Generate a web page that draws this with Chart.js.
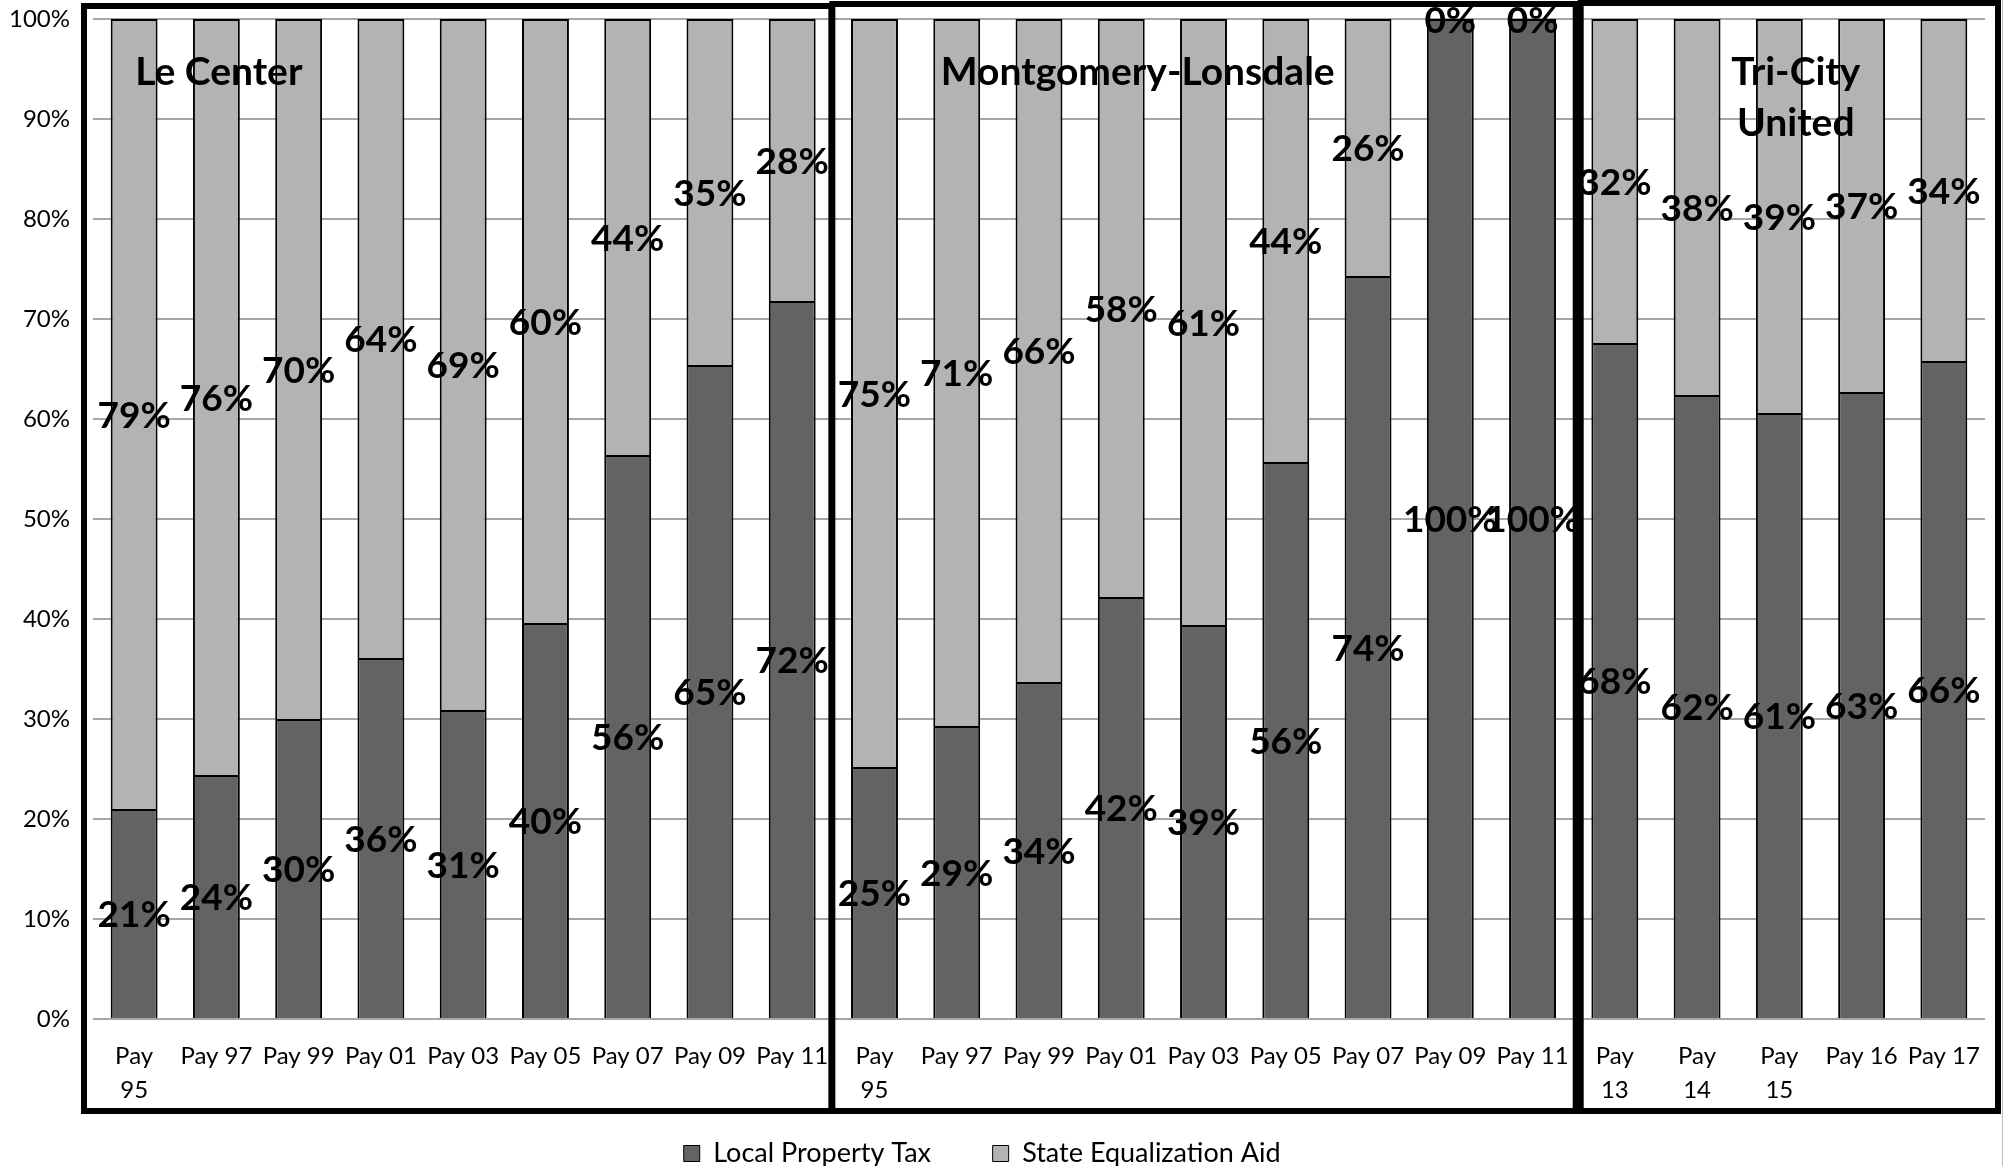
<!DOCTYPE html>
<html>
<head>
<meta charset="utf-8">
<script src="https://cdn.jsdelivr.net/npm/chart.js@4.4.1/dist/chart.umd.min.js"></script>
<style>
  html, body { margin: 0; padding: 0; background: #fff; }
  #wrap { width: 2005px; height: 1166px; }
</style>
</head>
<body>
<div id="wrap"><canvas id="taxChart" width="2005" height="1166"></canvas></div>
<script>
// tick labels (some wrap onto two lines like in the original)
const categories = [
  ['Pay', '95'], 'Pay 97', 'Pay 99', 'Pay 01', 'Pay 03', 'Pay 05', 'Pay 07', 'Pay 09', 'Pay 11',
  ['Pay', '95'], 'Pay 97', 'Pay 99', 'Pay 01', 'Pay 03', 'Pay 05', 'Pay 07', 'Pay 09', 'Pay 11',
  ['Pay', '13'], ['Pay', '14'], ['Pay', '15'], 'Pay 16', 'Pay 17'
];

const localTax = [21.0, 24.4, 30.0, 36.1, 30.9, 39.6, 56.4, 65.4, 71.8,
                  25.2, 29.3, 33.7, 42.2, 39.4, 55.7, 74.3, 100, 100,
                  67.6, 62.4, 60.6, 62.7, 65.8];
const stateAid = [79.0, 75.6, 70.0, 63.9, 69.1, 60.4, 43.6, 34.6, 28.2,
                  74.8, 70.7, 66.3, 57.8, 60.6, 44.3, 25.7, 0, 0,
                  32.4, 37.6, 39.4, 37.3, 34.2];

const groupNames = [['Le Center'], ['Montgomery-Lonsdale'], ['Tri-City', 'United']];
const groupSizes = [9, 9, 5];

const yTicks = [0, 10, 20, 30, 40, 50, 60, 70, 80, 90, 100];

const FONT = 'Lato';

// labels, group frames and titles drawn on top of the bars
const overlayPlugin = {
    id: 'overlay',
    afterDatasetsDraw(chart) {
        const ctx = chart.ctx;
        ctx.save();
        ctx.font = 'bold 37px ' + FONT;
        ctx.fillStyle = '#000';
        ctx.textAlign = 'center';
        ctx.textBaseline = 'middle';
        chart.data.datasets.forEach((ds, di) => {
            chart.getDatasetMeta(di).data.forEach((bar, i) => {
                const p = bar.getProps(['x', 'y', 'base'], true);
                ctx.fillText(Math.round(ds.data[i]) + '%', p.x, (p.y + p.base) / 2 + 2);
            });
        });
        ctx.restore();
    },
    afterDraw(chart) {
        const ctx = chart.ctx;
        const xs = chart.scales.x;
        const area = chart.chartArea;
        // frame offsets for each group: [left, right, top]
        const frameAdj = [[-9, -2, 6], [-1, 2, 4], [7, 13, 3]];
        // where each title sits (category index)
        const titleAt = [1.03, 12.2, 20.2];
        ctx.save();
        let start = 0;
        groupSizes.forEach((n, g) => {
            const left = xs.getPixelForValue(start - 0.5) + frameAdj[g][0];
            const right = xs.getPixelForValue(start + n - 0.5) + frameAdj[g][1];
            const top = frameAdj[g][2];
            const bottom = area.bottom + 92;
            ctx.strokeStyle = '#000';
            ctx.lineWidth = 6;
            ctx.lineJoin = 'miter';
            ctx.strokeRect(left, top, right - left, bottom - top);

            ctx.font = 'bold 39px ' + FONT;
            ctx.fillStyle = '#000';
            ctx.textAlign = 'center';
            ctx.textBaseline = 'middle';
            const tx = xs.getPixelForValue(titleAt[g]);
            groupNames[g].forEach((line, k) => {
                ctx.fillText(line, tx, area.top + 53 + k * 51);
            });
            start += n;
        });
        // thin outer border line on the right edge
        ctx.strokeStyle = '#bfbfbf';
        ctx.lineWidth = 1;
        ctx.beginPath();
        ctx.moveTo(2002.5, 0);
        ctx.lineTo(2002.5, chart.height);
        ctx.stroke();
        ctx.restore();
    }
};

const ctx = document.getElementById('taxChart').getContext('2d');
const taxChart = new Chart(ctx, {
    type: 'bar',
    data: {
        labels: categories,
        datasets: [{
            label: 'Local Property Tax',
            data: localTax,
            backgroundColor: '#636363',
            borderColor: '#000',
            borderWidth: 2,
            categoryPercentage: 1,
            barPercentage: 0.57
        }, {
            label: 'State Equalization Aid',
            data: stateAid,
            backgroundColor: '#b3b3b3',
            borderColor: '#000',
            borderWidth: 2,
            categoryPercentage: 1,
            barPercentage: 0.57
        }]
    },
    options: {
        responsive: false,
        animation: false,
        devicePixelRatio: 1,
        layout: { padding: { top: 19, right: 20, left: 0, bottom: 0 } },
        scales: {
            x: {
                stacked: true,
                grid: { display: false, drawTicks: false },
                border: { display: false },
                ticks: {
                    autoSkip: false,
                    maxRotation: 0,
                    minRotation: 0,
                    padding: 20,
                    color: '#000',
                    font: { family: FONT, size: 24, lineHeight: 1.42 }
                },
                afterFit(scale) {
                    scale.height = 87;
                    scale.paddingLeft = 0;
                    scale.paddingRight = 0;
                }
            },
            y: {
                stacked: true,
                min: 0,
                max: 100,
                afterBuildTicks(scale) { scale.ticks = yTicks.map(v => ({ value: v })); },
                grid: { color: '#a6a6a6', lineWidth: 2, drawTicks: false },
                border: { display: false },
                ticks: {
                    padding: 23,
                    color: '#000',
                    font: { family: FONT, size: 24 },
                    callback: v => v + '%'
                },
                afterFit(scale) {
                    scale.width = 93;
                    scale.paddingTop = 0;
                    scale.paddingBottom = 0;
                }
            }
        },
        plugins: {
            tooltip: { enabled: false },
            legend: {
                position: 'bottom',
                maxHeight: 60,
                labels: {
                    color: '#000',
                    boxWidth: 16,
                    boxHeight: 16,
                    padding: 34,
                    font: { family: FONT, size: 27 },
                    generateLabels(chart) {
                        const items = Chart.defaults.plugins.legend.labels.generateLabels(chart);
                        items[0].text += '    ';
                        items[1].text += '   ';
                        items.forEach(it => { it.lineWidth = 1; });
                        return items;
                    }
                }
            }
        }
    },
    plugins: [overlayPlugin]
});
</script>
</body>
</html>
